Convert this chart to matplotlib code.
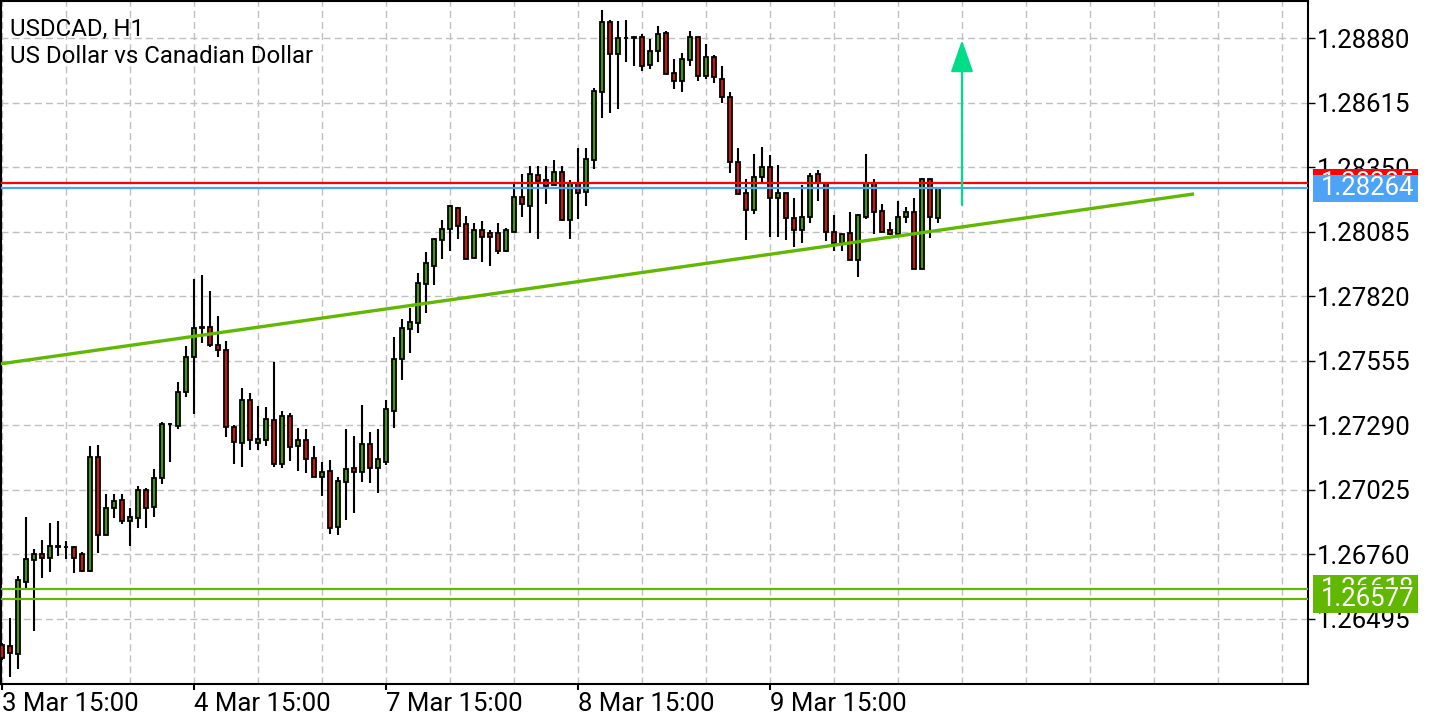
import matplotlib.pyplot as plt
from matplotlib.patches import Rectangle
from matplotlib.transforms import blended_transform_factory

plt.rcParams['font.family'] = ['Roboto', 'DejaVu Sans']

# USDCAD H1 candles (oldest first)
opens = [
    1.26388, 1.26384, 1.26351, 1.26647, 1.26737, 1.26762, 1.26745, 1.26795, 1.26791, 1.26791,
    1.26762, 1.26692, 1.27160, 1.26840, 1.26951, 1.26983, 1.26897, 1.26910, 1.27025, 1.26955,
    1.27074, 1.27296, 1.27287, 1.27427, 1.27571, 1.27694, 1.27694, 1.27620, 1.27599, 1.27283,
    1.27217, 1.27394, 1.27217, 1.27230, 1.27312, 1.27131, 1.27328, 1.27205, 1.27230, 1.27156,
    1.27078, 1.27103, 1.26873, 1.27057, 1.27115, 1.27098, 1.27213, 1.27115, 1.27139, 1.27349,
    1.27562, 1.27686, 1.27710, 1.27870, 1.27944, 1.28051, 1.28096, 1.28182, 1.28116, 1.27977,
    1.28092, 1.28079, 1.28079, 1.28006, 1.28084, 1.28227, 1.28190, 1.28318, 1.28297, 1.28277,
    1.28330, 1.28133, 1.28285, 1.28248, 1.28379, 1.28658, 1.28946, 1.28814, 1.28880, 1.28884,
    1.28884, 1.28769, 1.28827, 1.28900, 1.28736, 1.28703, 1.28790, 1.28884, 1.28724, 1.28802,
    1.28712, 1.28638, 1.28371, 1.28244, 1.28174, 1.28309, 1.28350, 1.28223, 1.28244, 1.28141,
    1.28092, 1.28145, 1.28322, 1.28285, 1.28084, 1.28038, 1.28079, 1.27969, 1.28145, 1.28285,
    1.28170, 1.28092, 1.28075, 1.28145, 1.28166, 1.27932, 1.28301, 1.28141,
]
highs = [
    1.26396, 1.26499, 1.26671, 1.26914, 1.26782, 1.26819, 1.26889, 1.26897, 1.26815, 1.26795,
    1.26770, 1.27205, 1.27209, 1.27008, 1.27008, 1.27008, 1.26951, 1.27041, 1.27033, 1.27111,
    1.27304, 1.27300, 1.27468, 1.27616, 1.27891, 1.27907, 1.27841, 1.27739, 1.27636, 1.27291,
    1.27443, 1.27423, 1.27369, 1.27365, 1.27550, 1.27349, 1.27341, 1.27279, 1.27275, 1.27205,
    1.27139, 1.27148, 1.27078, 1.27275, 1.27246, 1.27373, 1.27263, 1.27275, 1.27394, 1.27653,
    1.27727, 1.27772, 1.27915, 1.28002, 1.28059, 1.28133, 1.28195, 1.28186, 1.28149, 1.28121,
    1.28129, 1.28092, 1.28121, 1.28100, 1.28281, 1.28322, 1.28355, 1.28355, 1.28355, 1.28379,
    1.28355, 1.28297, 1.28428, 1.28428, 1.28675, 1.28995, 1.28954, 1.28950, 1.28954, 1.28888,
    1.28896, 1.28876, 1.28929, 1.28909, 1.28794, 1.28818, 1.28909, 1.28884, 1.28855, 1.28810,
    1.28765, 1.28658, 1.28428, 1.28301, 1.28404, 1.28433, 1.28400, 1.28359, 1.28244, 1.28223,
    1.28277, 1.28326, 1.28338, 1.28285, 1.28153, 1.28075, 1.28166, 1.28158, 1.28404, 1.28301,
    1.28199, 1.28125, 1.28211, 1.28186, 1.28223, 1.28305, 1.28301, 1.28268,
]
lows = [
    1.26327, 1.26257, 1.26290, 1.26622, 1.26446, 1.26663, 1.26688, 1.26754, 1.26741, 1.26684,
    1.26688, 1.26688, 1.26766, 1.26840, 1.26910, 1.26885, 1.26795, 1.26869, 1.26869, 1.26914,
    1.27049, 1.27139, 1.27275, 1.27406, 1.27337, 1.27628, 1.27612, 1.27571, 1.27242, 1.27131,
    1.27119, 1.27189, 1.27189, 1.27205, 1.27119, 1.27115, 1.27144, 1.27103, 1.27094, 1.27078,
    1.27000, 1.26844, 1.26840, 1.26901, 1.26930, 1.27057, 1.27053, 1.27012, 1.27127, 1.27279,
    1.27476, 1.27587, 1.27669, 1.27751, 1.27866, 1.27973, 1.28006, 1.28055, 1.27973, 1.27977,
    1.27961, 1.27944, 1.27993, 1.28002, 1.28084, 1.28145, 1.28079, 1.28055, 1.28199, 1.28277,
    1.28129, 1.28055, 1.28137, 1.28190, 1.28342, 1.28552, 1.28572, 1.28589, 1.28781, 1.28765,
    1.28744, 1.28753, 1.28781, 1.28732, 1.28671, 1.28658, 1.28765, 1.28703, 1.28712, 1.28695,
    1.28613, 1.28326, 1.28240, 1.28051, 1.28158, 1.28281, 1.28063, 1.28063, 1.28051, 1.28022,
    1.28038, 1.28121, 1.28211, 1.28047, 1.28006, 1.28006, 1.27969, 1.27899, 1.28137, 1.28075,
    1.28084, 1.28071, 1.28075, 1.28121, 1.27932, 1.27932, 1.28059, 1.28121,
]
closes = [
    1.26335, 1.26355, 1.26655, 1.26741, 1.26762, 1.26745, 1.26795, 1.26791, 1.26791, 1.26745,
    1.26692, 1.27160, 1.26840, 1.26951, 1.26979, 1.26897, 1.26914, 1.27025, 1.26951, 1.27074,
    1.27296, 1.27296, 1.27427, 1.27571, 1.27690, 1.27690, 1.27620, 1.27599, 1.27283, 1.27222,
    1.27394, 1.27230, 1.27234, 1.27316, 1.27131, 1.27328, 1.27201, 1.27230, 1.27152, 1.27078,
    1.27098, 1.26869, 1.27061, 1.27111, 1.27098, 1.27213, 1.27115, 1.27152, 1.27357, 1.27562,
    1.27690, 1.27714, 1.27874, 1.27956, 1.28055, 1.28096, 1.28190, 1.28108, 1.27973, 1.28092,
    1.28063, 1.28063, 1.28006, 1.28092, 1.28227, 1.28199, 1.28322, 1.28293, 1.28272, 1.28330,
    1.28133, 1.28285, 1.28244, 1.28383, 1.28662, 1.28946, 1.28814, 1.28880, 1.28880, 1.28880,
    1.28765, 1.28827, 1.28896, 1.28732, 1.28703, 1.28794, 1.28884, 1.28724, 1.28802, 1.28720,
    1.28638, 1.28371, 1.28240, 1.28174, 1.28309, 1.28350, 1.28223, 1.28244, 1.28141, 1.28092,
    1.28145, 1.28313, 1.28285, 1.28084, 1.28038, 1.28075, 1.27969, 1.28153, 1.28285, 1.28166,
    1.28084, 1.28075, 1.28145, 1.28166, 1.27932, 1.28301, 1.28145, 1.28264,
]

date_pos = [0, 24, 48, 72, 96]
date_labels = ['3 Mar 15:00', '4 Mar 15:00', '7 Mar 15:00', '8 Mar 15:00', '9 Mar 15:00']
price_ticks = [1.26495, 1.26760, 1.27025, 1.27290, 1.27555, 1.27820, 1.28085, 1.28350, 1.28615, 1.28880]

bid = 1.28264
ask = 1.28285
support_hi = 1.26618
support_lo = 1.26577
trend_x = [-0.25, 149.0]
trend_y = [1.27542, 1.28240]
arrow_x = 120
arrow_from = 1.28195
arrow_to = 1.28872

BULL = '#4a9800'
BEAR = '#c81a0a'
LINE_GREEN = '#62b800'
BLUE = '#4da3f5'
TICK_SIZE = 18.5

fig = plt.figure(figsize=(14.4, 7.2), dpi=100)
ax = fig.add_axes([1 / 1440, 36 / 720, 1307 / 1440, 683 / 720])

x = list(range(len(opens)))
body = [c - o for o, c in zip(opens, closes)]
colors = [BULL if c > o else BEAR for o, c in zip(opens, closes)]

ax.vlines(x, lows, highs, color='black', linewidth=1.5, zorder=3)
ax.bar(x, body, bottom=opens, width=0.5, color=colors, edgecolor='black',
       linewidth=1.3, zorder=4)

# horizontal levels and trendline
ax.axhline(ask, color='#ff0000', linewidth=1.6, zorder=5)
ax.axhline(bid, color=BLUE, linewidth=1.6, zorder=5)
ax.axhline(support_hi, color=LINE_GREEN, linewidth=1.6, zorder=5)
ax.axhline(support_lo, color=LINE_GREEN, linewidth=1.6, zorder=5)
ax.plot(trend_x, trend_y, color=LINE_GREEN, linewidth=2.4, zorder=6, solid_capstyle='butt')

ax.annotate('', xy=(arrow_x, arrow_to), xytext=(arrow_x, arrow_from),
            arrowprops=dict(arrowstyle='-|>,head_length=2.0,head_width=0.7',
                            color='#00dd88', lw=1.6, shrinkA=0, shrinkB=0,
                            mutation_scale=10),
            zorder=6)

ax.set_xlim(-0.125, 163.25)
ax.set_ylim(1.26228, 1.29032)

ax.yaxis.tick_right()
ax.set_yticks(price_ticks)
ax.set_yticklabels([f'{p:.5f}' for p in price_ticks])
ax.set_xticks(date_pos)
ax.set_xticklabels(date_labels, ha='left')
ax.set_xticks(range(0, 164, 8), minor=True)
ax.tick_params(axis='y', direction='out', length=5, width=1, pad=1.5, labelsize=TICK_SIZE)
ax.tick_params(axis='x', which='major', direction='out', length=4, width=1.5, pad=2,
               labelsize=TICK_SIZE)
ax.tick_params(axis='x', which='minor', length=0)

ax.grid(True, axis='y', color='#c0c0c0', linestyle=(0, (5, 3)), linewidth=1)
ax.grid(True, axis='x', which='both', color='#c0c0c0', linestyle=(0, (5, 3)), linewidth=1)
ax.set_axisbelow(True)
for s in ax.spines.values():
    s.set_linewidth(1.5)
    s.set_color('black')

# price labels on the right axis, later ones cover earlier ones
trans = blended_transform_factory(ax.transAxes, ax.transData)
box_h = 0.00111
layer = [10]


def price_label(price, color):
    z = layer[0]
    ax.add_patch(Rectangle((1.0038, price - box_h / 2), 0.0803, box_h, transform=trans,
                           facecolor=color, edgecolor='none', clip_on=False, zorder=z))
    ax.text(1.0095, price, f'{price:.5f}', transform=trans, color='white', fontsize=TICK_SIZE,
            va='center', ha='left', clip_on=False, zorder=z + 1)
    layer[0] += 2


price_label(ask, '#ff0000')
price_label(bid, BLUE)
price_label(support_hi, LINE_GREEN)
price_label(support_lo, LINE_GREEN)

fig.text(10 / 1440, 1 - 36 / 720, 'USDCAD, H1', fontsize=17.3, va='baseline')
fig.text(10 / 1440, 1 - 63 / 720, 'US Dollar vs Canadian Dollar', fontsize=17.3, va='baseline')

fig.savefig('out.png', dpi=100)
